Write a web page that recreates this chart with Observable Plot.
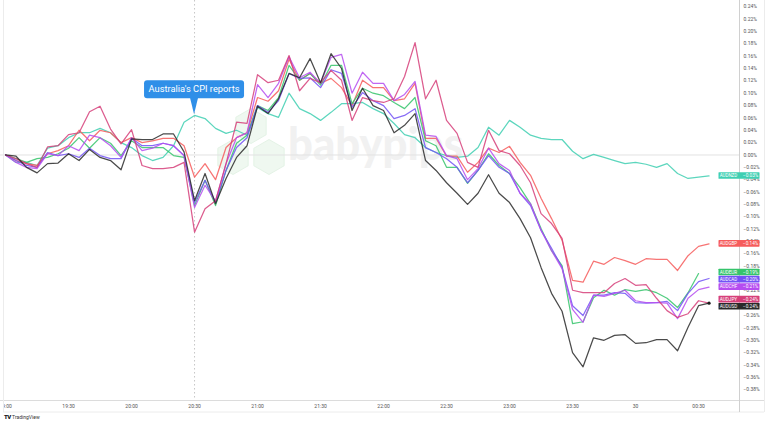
<!DOCTYPE html>
<html><head><meta charset="utf-8">
<script src="https://cdn.jsdelivr.net/npm/d3@7"></script>
<script src="https://cdn.jsdelivr.net/npm/@observablehq/plot@0.6"></script>
<style>
html,body{margin:0;padding:0;background:#fff;}
#wrap{position:relative;width:768px;height:426px;overflow:hidden;background:#fff;}
#tv{position:absolute;left:4px;top:413px;font:5px Roboto, sans-serif;color:#333;display:flex;align-items:center;gap:1.5px;white-space:nowrap}
#tv b{font:900 6px Roboto, sans-serif;letter-spacing:-0.6px;color:#131722}
</style></head><body><div id="wrap"></div>
<script>
// ---- data: % change since 19:00, 5-minute bars ----
const pairs  = ["AUDNZD","AUDGBP","AUDEUR","AUDCAD","AUDCHF","AUDJPY","AUDUSD"];
const colors = ["#3fcfb2","#f65c5c","#35c46b","#7252f5","#b54cf0","#d6407a","#2a2a2a"];
const cpiLabel = "Australia's CPI reports";
const cpiValue = 0.065;
const yTicks = [0.24,0.22,0.20,0.18,0.16,0.14,0.12,0.10,0.08,0.06,0.04,0.02,0.00,-0.02,-0.04,-0.06,-0.08,-0.10,-0.12,-0.14,-0.16,-0.18,-0.20,-0.22,-0.24,-0.26,-0.28,-0.30,-0.32,-0.34,-0.36,-0.38];

const audnzd = [0,-0.012,-0.012,-0.017,0.011,0.015,0.028,0.036,0.036,0.043,
 0.036,0.020,0.012,-0.001,-0.009,-0.004,0.015,0.053,0.064,0.059,
 0.043,0.035,0.040,0.032,0.077,0.067,0.061,0.100,0.075,0.067,
 0.056,0.069,0.083,0.083,0.085,0.075,0.067,0.051,0.033,0.028,
 0.012,0.004,-0.001,-0.004,-0.002,0.012,0.045,0.032,0.056,0.045,
 0.032,0.027,0.025,0.025,0.006,-0.006,0.001,-0.004,-0.009,-0.014,
 -0.012,-0.015,-0.020,-0.014,-0.030,-0.038,-0.036,-0.034];
const audgbp = [0,-0.009,-0.014,-0.017,0.002,0.007,0.015,0.040,0.023,0.040,
 0.036,0.020,0.028,0.020,0.023,0.027,0.027,0.015,-0.036,-0.014,
 -0.040,0.012,0.028,0.036,0.093,0.087,0.104,0.155,0.121,0.132,
 0.116,0.124,0.109,0.080,0.121,0.109,0.109,0.088,0.091,0.116,
 0.027,0.027,-0.002,-0.002,-0.028,-0.012,0.011,0.004,0.014,-0.012,
 -0.033,-0.070,-0.103,-0.138,-0.203,-0.206,-0.172,-0.177,-0.166,-0.171,
 -0.177,-0.168,-0.169,-0.169,-0.187,-0.163,-0.148,-0.144];
const audeur = [0,-0.006,-0.012,-0.006,-0.004,0.002,0.011,0.028,0.011,0.028,
 0.019,-0.001,0.023,0.012,0.012,0.012,-0.001,-0.004,-0.082,-0.041,
 -0.082,-0.025,0.019,0.032,0.080,0.072,0.093,0.145,0.121,0.132,
 0.113,0.145,0.145,0.083,0.108,0.100,0.096,0.085,0.075,0.093,
 0.023,0.015,-0.020,-0.020,-0.046,-0.025,0.002,-0.017,-0.030,-0.053,
 -0.079,-0.119,-0.155,-0.179,-0.273,-0.270,-0.231,-0.219,-0.227,-0.218,
 -0.221,-0.218,-0.223,-0.232,-0.247,-0.223,-0.192,null];
const audcad = [0,-0.009,-0.017,-0.020,0.004,-0.001,0.002,-0.004,0.011,-0.001,
 -0.006,-0.006,0.027,0.015,0.015,0.019,0.015,-0.001,-0.077,-0.041,
 -0.077,-0.025,0.012,0.028,0.080,0.069,0.088,0.132,0.124,0.125,
 0.109,0.138,0.132,0.077,0.101,0.088,0.080,0.059,0.064,0.075,
 0.012,0.004,-0.006,-0.020,-0.045,-0.025,-0.001,-0.020,-0.030,-0.062,
 -0.082,-0.122,-0.151,-0.182,-0.244,-0.260,-0.227,-0.227,-0.223,-0.224,
 -0.239,-0.240,-0.239,-0.237,-0.252,-0.224,-0.205,-0.200];
const audchf = [0,-0.012,-0.020,-0.022,0.002,-0.001,0.015,0.007,0.032,0.028,
 0.015,-0.004,0.028,0.007,0.011,0.019,0.015,-0.001,-0.085,-0.049,
 -0.075,-0.014,0.028,0.036,0.114,0.093,0.116,0.159,0.125,0.134,
 0.116,0.158,0.163,0.100,0.134,0.116,0.116,0.088,0.098,0.119,
 0.032,0.030,-0.001,-0.006,-0.040,-0.022,0.011,-0.014,-0.025,-0.062,
 -0.079,-0.122,-0.155,-0.184,-0.250,-0.271,-0.227,-0.229,-0.224,-0.219,
 -0.236,-0.239,-0.239,-0.240,-0.265,-0.232,-0.218,-0.214];
const audjpy = [0,-0.006,-0.014,-0.020,0.013,0.015,0.033,0.036,0.070,0.079,
 0.042,0.018,0.041,-0.017,-0.022,-0.022,-0.020,-0.012,-0.125,-0.087,
 -0.074,-0.014,0.053,0.051,0.130,0.117,0.121,0.161,0.104,0.124,
 0.117,0.137,0.121,0.056,0.093,0.088,0.085,0.091,0.127,0.182,
 0.091,0.121,0.056,0.035,-0.012,-0.020,0.040,0.007,0.002,-0.017,
 -0.045,-0.095,-0.111,-0.135,-0.219,-0.223,-0.223,-0.223,-0.208,-0.200,
 -0.211,-0.210,-0.232,-0.252,-0.263,-0.257,-0.236,-0.240];
const audusd = [0,-0.002,-0.020,-0.029,-0.014,-0.013,0.002,-0.009,0.009,-0.004,
 -0.009,-0.024,0.026,0.025,0.025,0.034,0.034,0.005,-0.074,-0.030,
 -0.079,-0.038,-0.004,0.015,0.079,0.067,0.091,0.132,0.125,0.156,
 0.117,0.164,0.140,0.072,0.108,0.080,0.072,0.036,0.048,0.067,
 -0.009,-0.025,-0.045,-0.062,-0.080,-0.062,-0.032,-0.062,-0.077,-0.103,
 -0.134,-0.182,-0.224,-0.253,-0.320,-0.343,-0.296,-0.300,-0.292,-0.291,
 -0.305,-0.304,-0.299,-0.299,-0.317,-0.279,-0.244,-0.240];
const series = [audnzd,audgbp,audeur,audcad,audchf,audjpy,audusd];

// time stamps: 5-minute bars from 19:00
const start = new Date(2023, 7, 29, 19, 0);
const times = audusd.map((_, i) => d3.timeMinute.offset(start, 5 * i));
const cpiTime = new Date(2023, 7, 29, 20, 30);
const xTicks = times.filter(t => t.getMinutes() % 30 === 0);

const rows = [];
pairs.forEach((p, k) => series[k].forEach((v, i) => { if (v != null) rows.push({pair: p, time: times[i], value: v}); }));
const lastUSD = rows.filter(r => r.pair === "AUDUSD").slice(-1);

const W = 768, H = 426, mR = 29, mB = 26;
const fmtPct = v => (v < 0 ? "\u2212" : "") + Math.abs(v).toFixed(2) + "%";
const fmtTime = t => (t.getHours() === 0 && t.getMinutes() === 0) ? String(t.getDate()) : d3.timeFormat("%H:%M")(t);

const chart = Plot.plot({
  width: W, height: H,
  marginTop: 0, marginBottom: mB, marginLeft: 0, marginRight: mR,
  style: {fontFamily: "Roboto, sans-serif", fontSize: "5px", color: "#555", background: "transparent", overflow: "hidden"},
  x: {type: "time", domain: [new Date(+start - 2.4 * 60000), new Date(+start + 349.5 * 60000)],
      ticks: xTicks, tickFormat: fmtTime, tickSize: 0, tickPadding: 4, label: null},
  y: {domain: [-0.3975, 0.2501], ticks: yTicks, tickFormat: fmtPct, tickSize: 0, tickPadding: 4, axis: "right", label: null},
  color: {domain: pairs, range: colors},
  marks: [
    Plot.ruleY([0], {stroke: "#e2e2e2", strokeWidth: 1}),
    Plot.ruleX([cpiTime], {stroke: "#b8b8b8", strokeWidth: 0.8, strokeDasharray: "1.5,2.5"}),
    Plot.line(rows, {x: "time", y: "value", z: "pair", stroke: "pair", strokeWidth: 1.25, strokeOpacity: 0.85, strokeLinejoin: "round"}),
    Plot.dot(lastUSD, {x: "time", y: "value", r: 1.6, fill: "#1a1a1a", stroke: "none"})
  ]
});

document.getElementById("wrap").appendChild(chart);

// scales from the plot
const sxs = chart.scale("x"), sys = chart.scale("y");
const X = sxs.apply ? (v => sxs.apply(v)) : d3.scaleTime(sxs.domain, sxs.range);
const Y = sys.apply ? (v => sys.apply(v)) : d3.scaleLinear(sys.domain, sys.range);
const plotRight = W - mR, plotBottom = H - mB;
const NS = "http://www.w3.org/2000/svg";
const root = d3.select(chart);

// watermark (behind everything)
const wm = document.createElementNS(NS, "g");
chart.insertBefore(wm, chart.firstChild ? chart.firstChild.nextSibling : null);
const wmg = d3.select(wm);
const hex = (cx, cy, r) => d3.range(6).map(k => { const a = Math.PI / 3 * k + Math.PI / 6; return [cx + r * Math.cos(a), cy + r * Math.sin(a)]; });
[[251, 126], [233, 157], [269, 157]].forEach(([cx, cy]) => {
  wmg.append("path").attr("d", "M" + hex(cx, cy, 17.5).join("L") + "Z").attr("fill", "#eff8f0").attr("stroke", "#e4f3e6").attr("stroke-width", 1);
});
wmg.append("text").attr("x", 288).attr("y", 160).attr("text-anchor", "start").attr("font-family", "Lato, 'Open Sans', sans-serif").attr("font-weight", 900)
  .attr("font-size", 45).attr("fill", "#f1f1f1").attr("textLength", 175).attr("lengthAdjust", "spacingAndGlyphs").text("babypips");

// frame lines
const fr = root.append("g").attr("stroke-width", 1).attr("fill", "none");
fr.append("rect").attr("x", 0).attr("y", plotBottom + 1).attr("width", 3).attr("height", 11).attr("fill", "#fff").attr("stroke", "none");
fr.append("line").attr("x1", 0).attr("x2", 764).attr("y1", plotBottom + 0.5).attr("y2", plotBottom + 0.5).attr("stroke", "#dcdcdc");
fr.append("line").attr("x1", 3).attr("x2", 764).attr("y1", plotBottom + 12).attr("y2", plotBottom + 12).attr("stroke", "#ececec");
fr.append("line").attr("x1", plotRight + 0.5).attr("x2", plotRight + 0.5).attr("y1", 0).attr("y2", plotBottom + 12).attr("stroke", "#d0d0d0");
fr.append("line").attr("x1", 3.5).attr("x2", 3.5).attr("y1", 0).attr("y2", plotBottom + 12).attr("stroke", "#ececec");
fr.append("line").attr("x1", 764.5).attr("x2", 764.5).attr("y1", 0).attr("y2", plotBottom + 12).attr("stroke", "#ececec");

// callout
const cx = X(cpiTime), tipY = Y(cpiValue);
const co = root.append("g");
co.append("rect").attr("x", cx - 50).attr("y", tipY - 34).attr("width", 100).attr("height", 18).attr("rx", 3).attr("fill", "#2f8fe8");
co.append("path").attr("d", `M${cx - 4},${tipY - 16.5}L${cx + 4},${tipY - 16.5}L${cx},${tipY}Z`).attr("fill", "#2f8fe8");
co.append("text").attr("x", cx).attr("y", tipY - 25).attr("text-anchor", "middle").attr("dy", "0.35em")
  .attr("font-family", "Roboto, sans-serif").attr("font-size", 8.6).attr("fill", "#fff")
  .attr("textLength", 91).attr("lengthAdjust", "spacingAndGlyphs").text(cpiLabel);

// last-value tags on the price axis
const last = pairs.map((p, k) => { const a = series[k]; let j = a.length - 1; while (a[j] == null) j--; return {pair: p, value: a[j], color: colors[k], ty: Y(a[j])}; });
const gap = 7.1, tagH = 6.6;
const sorted = [...last].sort((a, b) => a.ty - b.ty);
for (let it = 0; it < 200; it++) {
  for (let i = 0; i < sorted.length - 1; i++) {
    const a = sorted[i], b = sorted[i + 1], d = b.ty - a.ty;
    if (d < gap) { const s = (gap - d) / 2; a.ty -= s; b.ty += s; }
  }
}
const tg = root.append("g").attr("font-family", "Roboto, sans-serif").attr("text-anchor", "start");
last.forEach(d => {
  const g = tg.append("g");
  g.append("rect").attr("x", plotRight - 20.5).attr("y", d.ty - tagH / 2).attr("width", 41).attr("height", tagH).attr("rx", 0.6).attr("fill", d.color);
  g.append("text").attr("x", plotRight - 19.3).attr("y", d.ty).attr("dy", "0.36em").attr("text-anchor", "start").attr("font-size", 4.5).attr("fill", "#fff")
    .attr("textLength", 17.5).attr("lengthAdjust", "spacingAndGlyphs").text(d.pair);
  g.append("text").attr("x", plotRight + 4).attr("y", d.ty).attr("dy", "0.36em").attr("text-anchor", "start").attr("font-size", 4.7).attr("fill", "#fff").text(fmtPct(d.value));
});

// TradingView mark
const tv = document.createElement("div");
tv.id = "tv";
tv.innerHTML = "<b>TV</b><span>TradingView</span>";
document.getElementById("wrap").appendChild(tv);
</script>
</body></html>
